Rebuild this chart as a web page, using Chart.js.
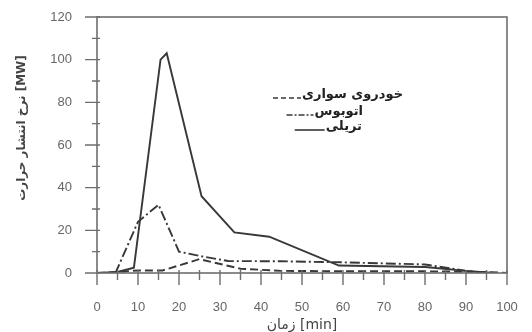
<!DOCTYPE html>
<html><head><meta charset="utf-8">
<script src="https://cdn.jsdelivr.net/npm/chart.js@4"></script>
<style>html,body{margin:0;padding:0;background:#fff}</style>
</head><body>
<canvas id="c" width="532" height="332"></canvas>
<script>
// ---- data ----
const seriesLabels = ['خودروی سواری', 'اتوبوس', 'تریلی'];
const carTimes   = [0, 5, 10, 16, 25, 35, 45, 60, 80, 95, 100];
const carValues  = [0, 0.5, 1.2, 1.2, 6.5, 2, 1, 0.8, 0.8, 0.5, 0];
const busTimes   = [0, 4.5, 10, 15, 20, 25, 32, 45, 60, 70, 80, 90, 95];
const busValues  = [0, 0, 24, 32, 10, 8, 5.6, 5.5, 5, 4.5, 4, 1, 0];
const truckTimes = [0, 5, 9, 15.5, 17, 25.5, 33.5, 42, 59, 80, 90, 97];
const truckValues= [0, 0.5, 2.5, 100, 103, 36, 19, 17, 3.5, 2.8, 1, 0];
const xTicks = [0, 10, 20, 30, 40, 50, 60, 70, 80, 90, 100];
const yTicks = [0, 20, 40, 60, 80, 100, 120];
const xTitle = 'زمان [min]';
const yTitle = 'نرخ انتشار حرارت [MW]';

const toPts = (t, v) => t.map((x, i) => ({x, y: v[i]}));
const lineCol = '#383838';
const axisCol = '#6e6e6e';
const arabicFont = '"DejaVu Sans", "Noto Sans", sans-serif';

// legend / title layout (pixels)
const legendLayout = [
  {right: 403, y: 95, sample: 28},
  {right: 363, y: 112, sample: 27},
  {right: 362, y: 127, sample: 30}
];
const yTitlePos = {x: 22, y: 128};

const framePlugin = {
  id: 'frame',
  afterDraw(chart) {
    const {ctx, chartArea: a, scales: {x, y}} = chart;
    ctx.save();
    ctx.strokeStyle = axisCol;
    ctx.lineWidth = 1.6;
    ctx.strokeRect(a.left, a.top, a.right - a.left, a.bottom - a.top);
    ctx.lineWidth = 1.4;
    ctx.beginPath();
    for (let v = 0; v <= 120; v += 10) {
      const py = y.getPixelForValue(v);
      const major = v % 20 === 0;
      ctx.moveTo(a.left - (major ? 12 : 5), py);
      ctx.lineTo(a.left + 3, py);
    }
    for (let v = 0; v <= 100; v += 5) {
      const px = x.getPixelForValue(v);
      const major = v % 10 === 0;
      ctx.moveTo(px, a.bottom - 3);
      ctx.lineTo(px, a.bottom + (major ? 12 : 7));
    }
    ctx.stroke();
    // y title
    ctx.save();
    ctx.translate(yTitlePos.x, yTitlePos.y);
    ctx.rotate(-Math.PI / 2);
    ctx.font = 'bold 12px ' + arabicFont;
    ctx.fillStyle = '#444';
    ctx.textAlign = 'center';
    ctx.textBaseline = 'middle';
    ctx.fillText(yTitle, 0, 0);
    ctx.restore();
    // legend
    chart.data.datasets.forEach((ds, i) => {
      const L = legendLayout[i];
      ctx.font = 'bold 13px ' + arabicFont;
      ctx.fillStyle = '#222';
      ctx.textAlign = 'right';
      ctx.textBaseline = 'middle';
      ctx.fillText(ds.label, L.right, L.y);
      const w = ctx.measureText(ds.label).width;
      const x1 = L.right - w - 1;
      ctx.strokeStyle = ds.borderColor;
      ctx.lineWidth = 1.6;
      ctx.setLineDash(ds.legendDash);
      ctx.beginPath();
      ctx.moveTo(x1 - L.sample, L.y + 3);
      ctx.lineTo(x1, L.y + 3);
      ctx.stroke();
      ctx.setLineDash([]);
    });
    ctx.restore();
  }
};

new Chart(document.getElementById('c'), {
  type: 'line',
  data: {
    datasets: [
      {label: seriesLabels[0], data: toPts(carTimes, carValues), borderDash: [8, 4], legendDash: [5, 3]},
      {label: seriesLabels[1], data: toPts(busTimes, busValues), borderDash: [10, 3, 2, 3], legendDash: [6, 2, 2, 2]},
      {label: seriesLabels[2], data: toPts(truckTimes, truckValues), borderDash: [], legendDash: []}
    ].map(d => Object.assign({borderColor: lineCol, borderWidth: 1.9, pointRadius: 0, tension: 0, fill: false}, d))
  },
  options: {
    responsive: false,
    animation: false,
    layout: {padding: {top: 17, right: 25, left: 0, bottom: 0}},
    plugins: {legend: {display: false}, tooltip: {enabled: false}},
    scales: {
      x: {
        type: 'linear', min: 0, max: 100,
        afterBuildTicks: s => { s.ticks = xTicks.map(v => ({value: v})); },
        afterFit: s => { s.height = 59; },
        grid: {display: true, drawOnChartArea: false, drawTicks: true, tickLength: 25, tickColor: 'rgba(0,0,0,0)'},
        border: {display: false},
        ticks: {padding: 2, color: '#666', font: {family: 'Liberation Sans, Arial', size: 13}, maxRotation: 0},
        title: {display: true, text: xTitle, color: '#444', font: {family: arabicFont, size: 14, lineHeight: 1}, padding: {top: 0, bottom: 0}}
      },
      y: {
        min: 0, max: 120,
        afterBuildTicks: s => { s.ticks = yTicks.map(v => ({value: v})); },
        afterFit: s => { s.width = 97; },
        grid: {display: true, drawOnChartArea: false, drawTicks: true, tickLength: 22, tickColor: 'rgba(0,0,0,0)'},
        border: {display: false},
        ticks: {padding: 3, color: '#666', font: {family: 'Liberation Sans, Arial', size: 13}},
        title: {display: false, text: yTitle}
      }
    }
  },
  plugins: [framePlugin]
});
</script>
</body></html>
